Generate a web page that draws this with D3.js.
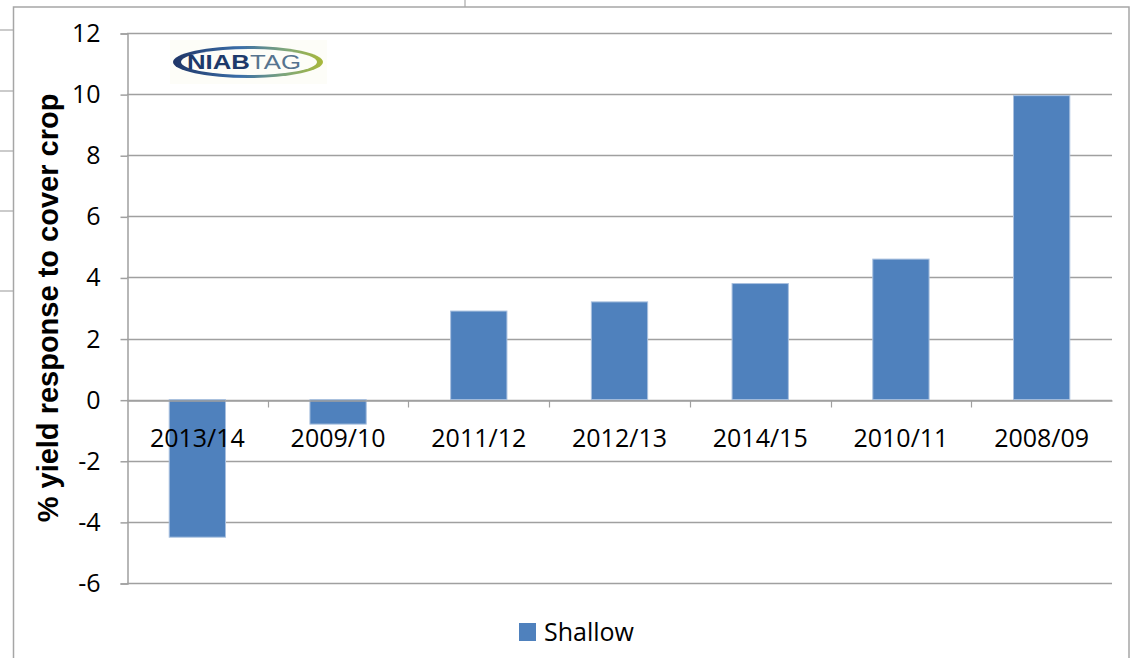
<!DOCTYPE html>
<html>
<head>
<meta charset="utf-8">
<script src="https://cdn.jsdelivr.net/npm/d3@7"></script>
<style>
  html, body { margin: 0; padding: 0; background: #ffffff; }
  svg { display: block; }
</style>
</head>
<body>
<svg id="chart" width="1132" height="658"></svg>
<script>
// Yield response of the shallow cultivation treatment to a cover crop, by season
const seasons = ["2013/14", "2009/10", "2011/12", "2012/13", "2014/15", "2010/11", "2008/09"];
const shallow = [-4.5, -0.8, 2.9, 3.2, 3.8, 4.6, 9.95];
const yTicks = [-6, -4, -2, 0, 2, 4, 6, 8, 10, 12];
const seriesName = "Shallow";
const yTitle = "% yield response to cover crop";

const W = 1132, H = 658;
const plot = { left: 127, right: 1112, top: 33, bottom: 583 };
const barColor = "#4f81bd";
const gridColor = "#a0a0a0";
const bodyFont = '"Open Sans", "Noto Sans", sans-serif';
const titleFont = '"Liberation Sans", Arial, sans-serif';

const svg = d3.select("#chart");

// Lines of the page sitting behind the chart object
const behind = svg.append("g").attr("stroke", "#a8a8a8").attr("stroke-width", 1.2);
[30, 91, 151, 211, 291].forEach(yy => {
  behind.append("line").attr("x1", 0).attr("x2", 13).attr("y1", yy).attr("y2", yy);
});
behind.append("line").attr("x1", 465).attr("x2", 465).attr("y1", 0).attr("y2", 7);

// Chart frame
svg.append("rect")
  .attr("x", 13.5).attr("y", 7)
  .attr("width", 1115.5).attr("height", H + 10)
  .attr("fill", "#fff")
  .attr("stroke", "#a6a6a6").attr("stroke-width", 1.5);

const x = d3.scaleBand().domain(seasons).range([plot.left, plot.right]).paddingInner(0.6).paddingOuter(0.3);
const xBand = d3.scaleBand().domain(seasons).range([plot.left, plot.right]);
const y = d3.scaleLinear().domain([-6, 12]).range([plot.bottom, plot.top]);

// Horizontal gridlines
svg.append("g")
  .selectAll("line")
  .data(yTicks)
  .join("line")
  .attr("x1", plot.left).attr("x2", plot.right)
  .attr("y1", d => Math.round(y(d)) + 0.5).attr("y2", d => Math.round(y(d)) + 0.5)
  .attr("stroke", gridColor).attr("stroke-width", 1.5);

// Y axis with outside ticks
const yAxis = svg.append("g")
  .attr("transform", `translate(${plot.left + 0.5},0.5)`)
  .call(d3.axisLeft(y).tickValues(yTicks).tickSize(7).tickPadding(20).tickFormat(d3.format("d")));
yAxis.select(".domain").attr("stroke", gridColor).attr("stroke-width", 1.5);
yAxis.selectAll(".tick line").attr("stroke", gridColor).attr("stroke-width", 1.5);
yAxis.selectAll(".tick text")
  .style("font-family", bodyFont)
  .style("font-size", "25px")
  .attr("fill", "#000")
  .text(d => d < 0 ? "-" + Math.abs(d) : d);

// Bars
svg.append("g")
  .selectAll("rect")
  .data(seasons.map((s, i) => ({ s, v: shallow[i] })))
  .join("rect")
  .attr("x", d => x(d.s))
  .attr("width", x.bandwidth())
  .attr("y", d => y(Math.max(0, d.v)))
  .attr("height", d => Math.abs(y(d.v) - y(0)))
  .attr("fill", barColor)
  .attr("stroke", "#a9c0df").attr("stroke-width", 1);

// Category axis along the zero line
const xAxis = svg.append("g")
  .attr("transform", `translate(0,${Math.round(y(0)) + 0.5})`)
  .call(d3.axisBottom(xBand).tickSize(0).tickPadding(29));
xAxis.select(".domain").attr("stroke", gridColor).attr("stroke-width", 1.5);
xAxis.selectAll(".tick text")
  .style("font-family", bodyFont)
  .style("font-size", "25px")
  .attr("fill", "#000");
// small tick marks between categories
xAxis.append("g")
  .selectAll("line")
  .data(seasons.slice(1))
  .join("line")
  .attr("x1", d => Math.round(xBand(d)) + 0.5).attr("x2", d => Math.round(xBand(d)) + 0.5)
  .attr("y1", 0).attr("y2", 7)
  .attr("stroke", gridColor).attr("stroke-width", 1.2);

// Y axis title
svg.append("text")
  .attr("transform", `translate(58,${(plot.top + plot.bottom) / 2}) rotate(-90)`)
  .attr("text-anchor", "middle")
  .style("font-family", titleFont)
  .style("font-weight", "bold")
  .style("font-size", "29px")
  .attr("fill", "#000")
  .text(yTitle);

// Legend
const legend = svg.append("g").attr("transform", "translate(519,623)");
legend.append("rect").attr("width", 17).attr("height", 18).attr("fill", barColor);
legend.append("text").attr("x", 25).attr("y", 18)
  .style("font-family", bodyFont)
  .style("font-size", "25px")
  .attr("fill", "#000")
  .text(seriesName);

// NIAB TAG logo
const logo = svg.append("g").attr("transform", "translate(248,62)");
const defs = svg.append("defs");
const grad = defs.append("linearGradient").attr("id", "ringGrad")
  .attr("x1", "0%").attr("x2", "100%").attr("y1", "0%").attr("y2", "0%");
grad.append("stop").attr("offset", "0%").attr("stop-color", "#1f3566");
grad.append("stop").attr("offset", "45%").attr("stop-color", "#3a6ea8");
grad.append("stop").attr("offset", "75%").attr("stop-color", "#7fa77a");
grad.append("stop").attr("offset", "100%").attr("stop-color", "#a8b83a");
logo.append("rect").attr("x", -78).attr("y", -22).attr("width", 157).attr("height", 44).attr("fill", "#fdfdf8");
logo.append("ellipse").attr("rx", 75).attr("ry", 16).attr("fill", "url(#ringGrad)");
logo.append("ellipse").attr("cx", 1).attr("rx", 68).attr("ry", 13).attr("fill", "#fdfdf8");
const logoText = logo.append("text")
  .attr("x", -61).attr("y", 7)
  .style("font-family", titleFont)
  .style("font-weight", "bold")
  .style("font-size", "19.5px")
  .attr("textLength", 114).attr("lengthAdjust", "spacingAndGlyphs");
logoText.append("tspan").attr("fill", "#1d3a6b").text("NIAB");
logoText.append("tspan").attr("fill", "#56748f").style("font-weight", "normal").text("TAG");
</script>
</body>
</html>
